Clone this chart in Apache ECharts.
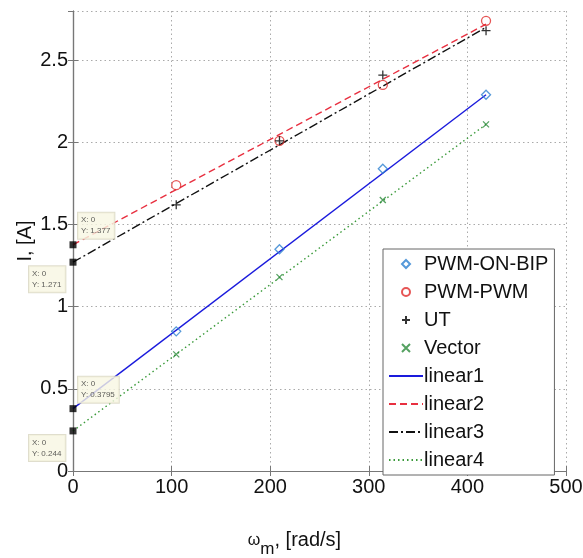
<!DOCTYPE html>
<html>
<head>
<meta charset="utf-8">
<script src="https://cdn.jsdelivr.net/npm/echarts@6/dist/echarts.min.js"></script>
<style>
  html, body { margin: 0; padding: 0; background: #fff; }
  #main { width: 583px; height: 558px; }
</style>
</head>
<body>
<div id="main"></div>
<script>
// measured points, omega in rad/s (1000..4000 rpm)
var omega = [104.7, 209.4, 314.2, 418.9];
var pwmOnBip = [0.85, 1.35, 1.84, 2.29];
var pwmPwm = [1.74, 2.01, 2.35, 2.74];
var ut = [1.62, 2.01, 2.41, 2.68];
var vector = [0.71, 1.18, 1.65, 2.11];

// fitted lines, start / end
var fitX = [0, 418.9];
var linear1 = [0.3795, 2.29];
var linear2 = [1.377, 2.72];
var linear3 = [1.271, 2.70];
var linear4 = [0.244, 2.11];

// data tips at x = 0
var tipY = [1.377, 1.271, 0.3795, 0.244];
var tipOffset = [[5, -19], [-44, 17], [5, -19], [-44, 17]];

var xTicks = [0, 100, 200, 300, 400, 500];

function pairs(xs, ys) {
  return xs.map(function (x, i) { return [x, ys[i]]; });
}

var font = 'Liberation Sans, Arial, sans-serif';
var chart = echarts.init(document.getElementById('main'));

function scatter(name, symbol, size, color) {
  return {
    name: name, type: 'scatter', symbol: symbol, symbolSize: size,
    itemStyle: { color: 'transparent', borderColor: color, borderWidth: 1.3 },
    z: 3
  };
}
function fit(name, ys, color, type) {
  return {
    name: name, type: 'line', data: pairs(fitX, ys), symbol: 'none',
    lineStyle: { color: color, width: 1.4, type: type },
    itemStyle: { color: color },
    z: 2
  };
}

var s1 = scatter('PWM-ON-BIP', 'path://M5,0L10,5L5,10L0,5Z', 9, '#2a7fd0'); s1.data = pairs(omega, pwmOnBip);
var s2 = scatter('PWM-PWM', 'circle', 9, '#e02a2a'); s2.data = pairs(omega, pwmPwm);
var s3 = scatter('UT', 'path://M5,0L5,10M0,5L10,5', 9, '#000'); s3.data = pairs(omega, ut);
var s4 = scatter('Vector', 'path://M0,0L10,10M10,0L0,10', 6, '#2a8a3a'); s4.data = pairs(omega, vector);

var tips = {
  type: 'scatter', symbol: 'rect', symbolSize: 7, z: 20,
  itemStyle: { color: '#000' },
  data: tipY.map(function (y, i) {
    return {
      value: [0, y],
      label: { offset: tipOffset[i] }
    };
  }),
  label: {
    show: true, position: 'inside', align: 'left', verticalAlign: 'middle',
    formatter: function (p) { return 'X: 0\nY: ' + p.value[1]; },
    fontFamily: font, fontSize: 8, lineHeight: 11, color: '#333',
    backgroundColor: '#f7f6e2', borderColor: '#d8d6c0', borderWidth: 1,
    padding: [2, 4, 2, 3]
  },
  silent: true
};

var axisCommon = {
  type: 'value',
  axisLine: { show: true, lineStyle: { color: '#777', width: 1.2 } },
  axisTick: { show: true, inside: true, length: 5, lineStyle: { color: '#777' } },
  axisLabel: { color: '#111', fontFamily: font, fontSize: 20 },
  splitLine: { show: true, lineStyle: { color: '#aaa', type: [1.5, 3], width: 1 } }
};

var noDot = { color: 'transparent', borderColor: 'transparent' };

chart.setOption({
  animation: false,
  backgroundColor: '#fff',
  grid: { left: 73, right: 17, top: 11, bottom: 87, containLabel: false, outerBoundsMode: 'none' },
  legend: {
    left: 383, top: 249, orient: 'vertical',
    padding: [5, 6, 5, 5],
    itemWidth: 34, itemHeight: 8, itemGap: 8,
    backgroundColor: '#fff', borderColor: '#666', borderWidth: 1,
    textStyle: { color: '#111', fontFamily: font, fontSize: 20, lineHeight: 19, padding: [0, 0, 0, -4] },
    data: [
      'PWM-ON-BIP', 'PWM-PWM', 'UT', 'Vector',
      { name: 'linear1', itemStyle: noDot },
      { name: 'linear2', itemStyle: noDot },
      { name: 'linear3', itemStyle: noDot },
      { name: 'linear4', itemStyle: noDot }
    ]
  },
  xAxis: [
    Object.assign({}, axisCommon, {
      min: xTicks[0], max: xTicks[xTicks.length - 1], interval: 100,
      axisLabel: Object.assign({}, axisCommon.axisLabel, { margin: 6 }),
      name: '{w|ω}{m|m}, [rad/s]',
      nameLocation: 'middle', nameGap: 52, nameMoveOverlap: false,
      nameTextStyle: {
        padding: [0, 50, 0, 0],
        rich: {
          w: { fontFamily: font, fontSize: 16, color: '#111', verticalAlign: 'middle' },
          m: { fontFamily: font, fontSize: 17, color: '#111', verticalAlign: 'top', padding: [18, 0, 0, 0] }
        },
        fontFamily: font, fontSize: 20, color: '#111'
      }
    }),
    {
      type: 'value', position: 'top', min: 0, max: 500, interval: 100,
      axisLine: { show: true, lineStyle: { color: '#777', width: 1.2 } },
      axisTick: { show: true, inside: true, length: 5, lineStyle: { color: '#777' } },
      axisLabel: { show: false }, splitLine: { show: false }
    }
  ],
  yAxis: [
    Object.assign({}, axisCommon, {
      min: 0, max: 2.8, interval: 0.5,
      axisLabel: Object.assign({}, axisCommon.axisLabel, { margin: 5, showMaxLabel: false }),
      name: 'I, [A]', nameLocation: 'middle', nameGap: 38, nameRotate: 90, nameMoveOverlap: false,
      nameTextStyle: { fontFamily: font, fontSize: 20, color: '#111' }
    }),
    {
      type: 'value', position: 'right', min: 0, max: 2.8, interval: 0.5,
      axisLine: { show: true, lineStyle: { color: '#777', width: 1.2 } },
      axisTick: { show: true, inside: true, length: 5, lineStyle: { color: '#777' } },
      axisLabel: { show: false }, splitLine: { show: false }
    }
  ],
  series: [
    s1, s2, s3, s4,
    fit('linear1', linear1, '#1a1adc', 'solid'),
    fit('linear2', linear2, '#e83040', [7, 4]),
    fit('linear3', linear3, '#111', [9, 3, 2, 3]),
    fit('linear4', linear4, '#3a9a3a', [1.5, 3]),
    tips
  ]
});
</script>
</body>
</html>
